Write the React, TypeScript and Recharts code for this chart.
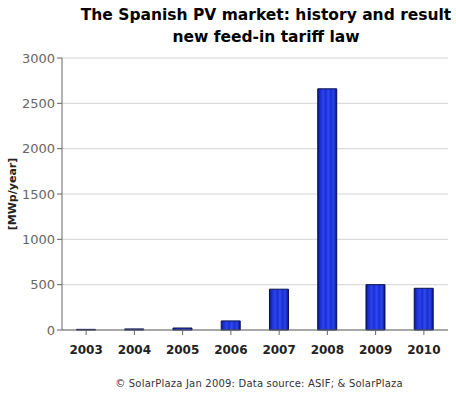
import { BarChart, Bar, XAxis, YAxis, CartesianGrid, Label } from 'recharts'

const years = ['2003', '2004', '2005', '2006', '2007', '2008', '2009', '2010']
const installed = [7, 12, 22, 100, 450, 2660, 500, 460]
const yTicks = [0, 500, 1000, 1500, 2000, 2500, 3000]

const data = years.map((year, i) => ({ year, value: installed[i] }))

const font = '"DejaVu Sans", sans-serif'

export default function App() {
  return (
    <div style={{ position: 'absolute', left: 0, top: 0, width: 456, height: 393, background: '#fff', fontFamily: font }}>
      <div style={{ position: 'absolute', left: 76, width: 380, top: 4, textAlign: 'center', fontWeight: 'bold', fontSize: 15.5, lineHeight: '22px', color: '#000' }}>
        The Spanish PV market: history and result<br />new feed-in tariff law
      </div>
      <BarChart width={456} height={393} data={data} margin={{ top: 58, right: 8, bottom: 33, left: 0 }} barCategoryGap="30%">
        <defs>
          <linearGradient id="barFill" x1="0" y1="0" x2="1" y2="0">
            <stop offset="0" stopColor="#0a1580" />
            <stop offset="0.12" stopColor="#1a2ed0" />
            <stop offset="0.3" stopColor="#2a44ee" />
            <stop offset="0.42" stopColor="#1a2ed0" />
            <stop offset="0.55" stopColor="#2f4af2" />
            <stop offset="0.7" stopColor="#1a2ed0" />
            <stop offset="0.82" stopColor="#2a44ee" />
            <stop offset="1" stopColor="#0a1580" />
          </linearGradient>
        </defs>
        <CartesianGrid vertical={false} stroke="#d4d4d4" />
        <XAxis dataKey="year" stroke="#666" tickSize={5} tickLine={{ stroke: '#666' }} interval={0}
          tick={{ fill: '#222', fontSize: 12, fontWeight: 'bold', fontFamily: font, dy: 8 }} />
        <YAxis domain={[0, 3000]} ticks={yTicks} width={62} stroke="#666" tickSize={5}
          tick={{ fill: '#666', fontSize: 13, fontFamily: font }}>
          <Label value="[MWp/year]" angle={-90} position="insideLeft" offset={12}
            style={{ fontSize: 11, fontWeight: 'bold', fill: '#222', fontFamily: font, textAnchor: 'middle' }} />
        </YAxis>
        <Bar dataKey="value" fill="url(#barFill)" stroke="#0a1050" strokeWidth={1} isAnimationActive={false} />
      </BarChart>
      <div style={{ position: 'absolute', left: 62, width: 394, top: 378, textAlign: 'center', fontSize: 10, color: '#333', letterSpacing: 0.2 }}>
        © SolarPlaza Jan 2009: Data source: ASIF; & SolarPlaza
      </div>
    </div>
  )
}
